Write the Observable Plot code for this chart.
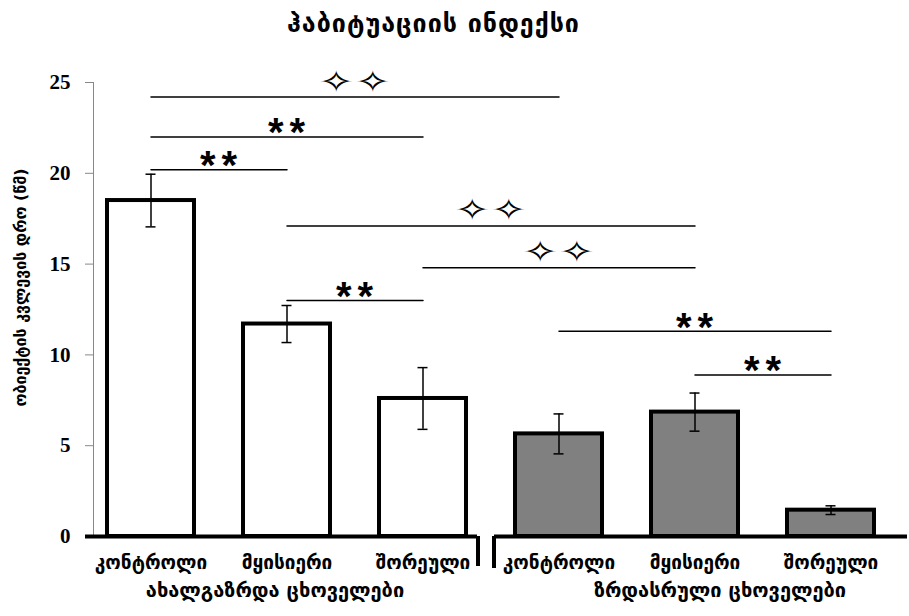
<!DOCTYPE html>
<html><head><meta charset="utf-8">
<script src="https://cdn.jsdelivr.net/npm/d3@7"></script>
<script src="https://cdn.jsdelivr.net/npm/@observablehq/plot@0.6"></script>
<style>
body{margin:0;background:#fff;width:909px;height:616px;overflow:hidden;}
#title{height:44px;font:bold 25px "DejaVu Sans";line-height:48px;letter-spacing:1px;text-align:center;padding-right:42px;color:#000;}
#chart svg{display:block;}
</style></head><body>
<div id="title"></div>
<div id="chart"></div>
<script>
const title = "ჰაბიტუაციის ინდექსი";
const yLabel = "ობიექტის კვლევის დრო (წმ)";
const groups = ["ახალგაზრდა ცხოველები", "ზრდასრული ცხოველები"];
const categories = ["კონტროლი", "მყისიერი", "შორეული"];
const youngMeans = [18.5, 11.7, 7.6];
const youngErrors = [1.45, 1.02, 1.7];
const adultMeans = [5.65, 6.85, 1.45];
const adultErrors = [1.1, 1.05, 0.24];
const yTicks = [0, 5, 10, 15, 20, 25];
// significance comparisons: [group, category] indices
const comparisons = [
  {from: [0, 0], to: [1, 0], label: "✧✧", level: 24.2},
  {from: [0, 0], to: [0, 2], label: "**", level: 22.0},
  {from: [0, 0], to: [0, 1], label: "**", level: 20.2},
  {from: [0, 1], to: [1, 1], label: "✧✧", level: 17.1},
  {from: [0, 2], to: [1, 1], label: "✧✧", level: 14.8},
  {from: [0, 1], to: [0, 2], label: "**", level: 13.0},
  {from: [1, 0], to: [1, 2], label: "**", level: 11.3},
  {from: [1, 1], to: [1, 2], label: "**", level: 8.9}
];

document.getElementById("title").textContent = title;

const keyOf = (g, c) => `${g}|${categories[c]}`;
const rows = [];
[youngMeans, adultMeans].forEach((means, g) => means.forEach((m, i) =>
  rows.push({group: g, key: keyOf(g, i), mean: m, err: (g ? adultErrors : youngErrors)[i]})));
const keys = rows.map(d => d.key);
const young = rows.filter(d => d.group === 0);
const adult = rows.filter(d => d.group === 1);
const groupRows = groups.map((name, g) => ({name, first: keyOf(g, 0), mid: keyOf(g, 1), last: keyOf(g, categories.length - 1)}));

const sigPoints = comparisons.flatMap((c, i) => [
  {id: i, key: keyOf(...c.from), level: c.level},
  {id: i, key: keyOf(...c.to), level: c.level}
]);

function sigLabels(index, scales) {
  const {x, y} = scales;
  const half = x.bandwidth() / 2;
  const g = d3.create("svg:g");
  comparisons.forEach(c => {
    const xm = (x(keyOf(...c.from)) + x(keyOf(...c.to))) / 2 + half;
    const star = c.label.includes("✧");
    const yy = y(c.level) + (star ? -5 : 10);
    const t = g.append("text")
      .attr("text-anchor", "middle")
      .attr("font-family", star ? "DejaVu Sans" : "Liberation Sans")
      .attr("font-weight", "bold")
      .attr("font-size", star ? 30 : 40)
      .attr("letter-spacing", star ? 0 : 6)
      .attr("fill", "black")
      .text(c.label);
    if (star) t.attr("transform", `translate(${xm},${yy}) scale(1.45,1)`);
    else t.attr("x", xm + 3).attr("y", yy);
  });
  return g.node();
}

const groupText = {frameAnchor: "bottom", dy: 60, fontSize: 20, fontWeight: "bold", fontFamily: "DejaVu Sans", fill: "black"};

const plot = Plot.plot({
  width: 909, height: 572,
  marginTop: 38, marginBottom: 80, marginLeft: 93, marginRight: 21,
  x: {domain: keys, paddingInner: 0.36, paddingOuter: 0.09},
  y: {domain: [0, 25]},
  style: {background: "white", overflow: "visible"},
  marks: [
    Plot.frame({anchor: "left", stroke: "#888"}),
    Plot.axisY({ticks: yTicks, tickSize: 8, tickPadding: 15, label: null, stroke: "#888", fill: "black",
      fontSize: 21, fontWeight: "bold", fontFamily: "Liberation Serif"}),
    Plot.axisX({tickSize: 0, tickPadding: 19, label: null, tickFormat: k => k.split("|")[1],
      fontSize: 19, fontWeight: "bold", fontFamily: "DejaVu Sans", fill: "black"}),
    Plot.barY(young, {x: "key", y: "mean", fill: "white", stroke: "black", strokeWidth: 4}),
    Plot.barY(adult, {x: "key", y: "mean", fill: "#808080", stroke: "black", strokeWidth: 4}),
    Plot.ruleX(rows, {x: "key", y1: d => d.mean - d.err, y2: d => d.mean + d.err, stroke: "black", strokeWidth: 1.5}),
    Plot.tickY(rows, {x: "key", y: d => d.mean - d.err, stroke: "black", strokeWidth: 1.5, insetLeft: 38.5, insetRight: 38.5}),
    Plot.tickY(rows, {x: "key", y: d => d.mean + d.err, stroke: "black", strokeWidth: 1.5, insetLeft: 38.5, insetRight: 38.5}),
    // group baselines and separators
    Plot.ruleY(groupRows.slice(0, 1), {x1: "first", x2: "last", y: 0, stroke: "black", strokeWidth: 4, insetLeft: -22, insetRight: -11}),
    Plot.ruleY(groupRows.slice(1), {x1: "first", x2: "last", y: 0, stroke: "black", strokeWidth: 4, insetLeft: -21, insetRight: -33}),
    Plot.ruleX(groupRows.slice(0, 1), {x: "last", y1: 0, y2: 0, insetBottom: -30, dx: 55, stroke: "black", strokeWidth: 4}),
    Plot.ruleX(groupRows.slice(1), {x: "first", y1: 0, y2: 0, insetBottom: -32, dx: -65, stroke: "black", strokeWidth: 4}),
    Plot.text(groupRows.slice(0, 1), {x: "mid", text: "name", dx: -12, ...groupText}),
    Plot.text(groupRows.slice(1), {x: "mid", text: "name", dx: 25, ...groupText}),
    Plot.text([yLabel], {text: d => d, frameAnchor: "left", textAnchor: "middle", rotate: -90, dx: -73, dy: -22,
      fontSize: 16, fontWeight: "bold", fontFamily: "DejaVu Sans", fill: "black"}),
    // significance lines
    Plot.line(sigPoints, {x: "key", y: "level", z: "id", stroke: "black", strokeWidth: 1.5}),
    sigLabels
  ]
});
document.getElementById("chart").appendChild(plot);
</script>
</body></html>
